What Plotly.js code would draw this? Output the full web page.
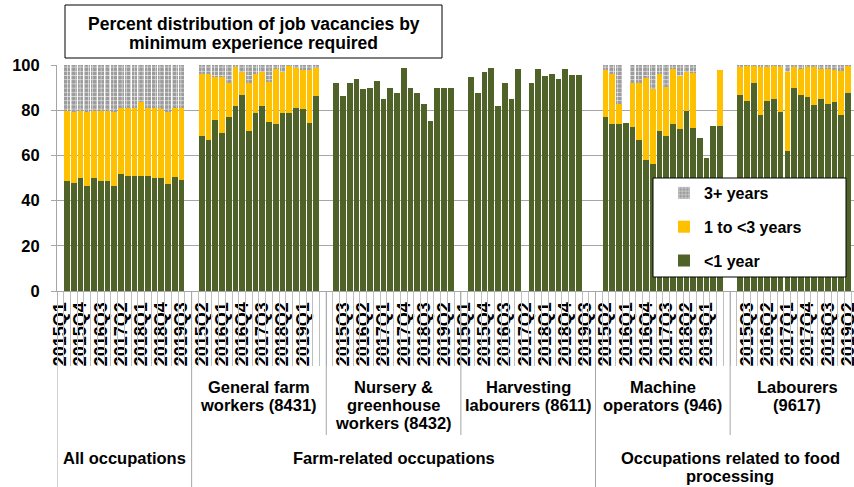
<!DOCTYPE html>
<html><head><meta charset="utf-8">
<script src="https://cdn.plot.ly/plotly-3.0.1.min.js"></script>
<style>html,body{margin:0;padding:0;background:#fff;overflow:hidden}#chart{width:854px;height:487px}</style>
</head><body><div id="chart"></div>
<script>
const quarters = ['2015Q1','2015Q2','2015Q3','2015Q4','2016Q1','2016Q2','2016Q3','2016Q4','2017Q1','2017Q2','2017Q3','2017Q4','2018Q1','2018Q2','2018Q3','2018Q4','2019Q1','2019Q2','2019Q3'];
const occupations = ['', 'General farm<br>workers (8431)', 'Nursery &amp;<br>greenhouse<br>workers (8432)', 'Harvesting<br>labourers (8611)', 'Machine<br>operators (946)', 'Labourers<br>(9617)'];
const sectors = ['All occupations', 'Farm-related occupations', 'Occupations related to food<br>processing'];
const sectorOfOccupation = [0, 1, 1, 1, 2, 2];
const seriesNames = ['<1 year', '1 to <3 years', '3+ years'];

// All occupations
const allOcc_lt1   = [null,48.7,47.8,50.0,46.6,50.0,48.7,48.7,46.6,51.8,50.9,50.9,50.9,50.9,50.0,50.0,47.5,50.4,49.1];
const allOcc_1to3  = [null,31.1,31.3,29.8,32.5,29.8,31.1,31.1,32.5,29.0,29.9,29.9,32.7,29.9,30.8,30.5,31.6,30.7,31.7];
const allOcc_3plus = [null,20.2,20.9,20.2,20.9,20.2,20.2,20.2,20.9,19.2,19.2,19.2,16.4,19.2,19.2,19.5,20.9,18.9,19.2];
// General farm workers (8431)
const farm_lt1   = [null,68.6,66.8,75.7,69.9,77.0,81.9,86.7,70.8,78.9,81.9,74.8,73.9,78.9,78.9,81.0,80.5,74.3,86.4];
const farm_1to3  = [null,27.4,29.2,19.1,24.9,14.9,17.1,10.4,21.1,17.1,15.2,17.8,24.2,18.2,20.8,17.5,17.3,23.5,12.1];
const farm_3plus = [null,4.0,4.0,5.2,5.2,8.1,1.0,2.9,8.1,4.0,2.9,7.4,1.9,2.9,0.3,1.5,2.2,2.2,1.5];
// Nursery & greenhouse workers (8432)
const nursery_lt1   = [null,91.9,86.1,91.9,93.9,89.2,89.8,92.8,85.0,89.8,87.8,98.8,89.8,87.8,82.7,75.4,89.8,89.8,89.8];
const nursery_1to3  = [null,null,null,null,null,null,null,null,null,null,null,null,null,null,null,null,null,null,null];
const nursery_3plus = [null,null,null,null,null,null,null,null,null,null,null,null,null,null,null,null,null,null,null];
// Harvesting labourers (8611)
const harvest_lt1   = [null,94.8,87.8,96.9,98.8,82.0,91.9,85.0,98.1,null,91.9,98.1,95.3,96.0,93.9,98.1,95.6,95.6,null];
const harvest_1to3  = [null,null,null,null,null,null,null,null,null,null,null,null,null,null,null,null,null,null,null];
const harvest_3plus = [null,null,null,null,null,null,null,null,null,null,null,null,null,null,null,null,null,null,null];
// Machine operators (946)
const machine_lt1   = [null,77.1,73.9,73.9,74.2,72.7,66.8,58.0,56.0,70.8,68.7,73.9,71.7,79.8,72.0,67.5,58.7,73.2,73.2];
const machine_1to3  = [null,20.7,22.1,8.8,null,19.2,25.1,36.1,33.2,25.2,21.4,24.2,23.4,17.3,24.3,null,null,null,24.6];
const machine_3plus = [null,2.2,4.0,17.3,null,8.1,8.1,5.9,10.8,4.0,9.9,1.9,4.9,2.9,3.7,null,null,null,null];
// Labourers (9617)
const labour_lt1   = [null,86.7,84.1,91.9,77.9,84.1,85.0,79.1,62.0,89.7,86.7,86.0,82.3,85.0,82.7,83.6,77.9,87.5,null];
const labour_1to3  = [null,12.3,15.5,7.7,21.1,14.9,14.7,19.9,35.1,9.3,11.4,13.0,17.0,13.1,15.4,14.2,19.6,12.1,null];
const labour_3plus = [null,1.0,0.4,0.4,1.0,1.0,0.3,1.0,2.9,1.0,1.9,1.0,0.7,1.9,1.9,2.2,2.5,0.4,null];

const lt1Groups  = [allOcc_lt1, farm_lt1, nursery_lt1, harvest_lt1, machine_lt1, labour_lt1];
const midGroups  = [allOcc_1to3, farm_1to3, nursery_1to3, harvest_1to3, machine_1to3, labour_1to3];
const highGroups = [allOcc_3plus, farm_3plus, nursery_3plus, harvest_3plus, machine_3plus, labour_3plus];

// category keys with a blank separator slot after each occupation group
const xKeys = [], tickvals = [], ticktext = [];
const nG = lt1Groups.length;
for (let g = 0; g < nG; g++) {
  quarters.forEach(q => xKeys.push('g' + g + ' ' + q));
  if (g < nG - 1) xKeys.push('gap' + g);
}
xKeys.forEach((k, i) => {
  if (i % 3 === 0) { tickvals.push(k); ticktext.push(k.startsWith('gap') ? '' : '<b>' + k.split(' ')[1] + '</b>'); }
});
function flatten(groups) {
  const out = [];
  groups.forEach((arr, g) => { arr.forEach(v => out.push(v)); if (g < groups.length - 1) out.push(null); });
  return out;
}

const green = '#4F6228', yellow = '#FFC000', grey = '#A6A6A6';
const traces = [
  {name: seriesNames[0], y: flatten(lt1Groups), marker: {color: green}, legendrank: 3},
  {name: seriesNames[1], y: flatten(midGroups), marker: {color: yellow}, legendrank: 2},
  {name: seriesNames[2], y: flatten(highGroups), marker: {color: grey,
     pattern: {shape: '+', fgcolor: '#ffffff', bgcolor: '#9C9C9C', size: 4.2, solidity: 0.22, fillmode: 'replace'}}, legendrank: 1}
].map((t, i) => Object.assign({type: 'bar', x: xKeys, hoverinfo: 'skip', legendgroup: 'lg' + i}, t));

// paper helpers (plot area: left 57, width 797; top 65, height 226)
const px2x = p => (p - 57) / 797;
const px2y = p => (291 - p) / 226;

const shapes = [];
const annotations = [];
const lblFont = {size: 16.5};
const lineGap = 18.3;
function addLines(text, xval, yFirst) {
  text.split('<br>').forEach((line, k) => {
    annotations.push({xref: 'x2', yref: 'paper', x: xval, y: px2y(yFirst + k * lineGap), xanchor: 'center', yanchor: 'middle',
      showarrow: false, text: '<b>' + line + '</b>', font: lblFont});
  });
}
for (let g = 0; g < nG; g++) {
  const isSectorStart = g === 0 || sectorOfOccupation[g] !== sectorOfOccupation[g - 1];
  shapes.push({type: 'line', xref: 'x2', yref: 'paper', x0: g * 20 - 0.5, x1: g * 20 - 0.5,
    y0: 0, y1: isSectorStart ? px2y(487) : px2y(435), line: {color: '#A6A6A6', width: 1}});
  if (occupations[g]) addLines(occupations[g], g * 20 + 9.5, 386.5);
}
sectors.forEach((s, si) => {
  const gs = sectorOfOccupation.map((v, i) => v === si ? i : -1).filter(i => i >= 0);
  const x0 = gs[0] * 20 - 0.5, x1 = gs[gs.length - 1] * 20 + 19.5;
  addLines(s, (x0 + x1) / 2, 457.5);
});
shapes.push({type: 'rect', xref: 'paper', yref: 'paper', x0: px2x(65), x1: px2x(442), y0: px2y(58), y1: px2y(5),
  line: {color: '#000', width: 1}, fillcolor: '#fff', layer: 'above'});
annotations.push({xref: 'paper', yref: 'paper', x: px2x(253.5), y: px2y(24), xanchor: 'center', yanchor: 'middle', showarrow: false,
  text: '<b>Percent distribution of job vacancies by</b>', font: {size: 17.5}});
annotations.push({xref: 'paper', yref: 'paper', x: px2x(253.5), y: px2y(43), xanchor: 'center', yanchor: 'middle', showarrow: false,
  text: '<b>minimum experience required</b>', font: {size: 17.5}});
shapes.push({type: 'rect', xref: 'paper', yref: 'paper', x0: px2x(653), x1: px2x(846), y0: px2y(277), y1: px2y(178),
  line: {color: '#000', width: 1}, fillcolor: '#fff', layer: 'above'});

const layout = {
  width: 854, height: 487,
  margin: {l: 57, r: 0, t: 65, b: 196},
  barmode: 'stack', bargap: 0.15,
  paper_bgcolor: '#fff', plot_bgcolor: '#fff',
  font: {family: 'Arial, "Liberation Sans", sans-serif', color: '#000'},
  showlegend: true,
  xaxis: {type: 'category', categoryorder: 'array', categoryarray: xKeys, range: [-0.5, 117.9],
    tickmode: 'array', tickvals: tickvals, ticktext: ticktext, tickangle: -90, tickfont: {size: 18},
    ticklabelstandoff: 3,
    showline: true, linecolor: '#A6A6A6', ticks: '', showgrid: false, zeroline: false, fixedrange: true},
  xaxis2: {type: 'linear', overlaying: 'x', anchor: 'y', side: 'bottom', range: [-0.5, 117.9],
    tickmode: 'linear', tick0: -0.5, dtick: 1, ticks: 'outside', ticklen: 74, tickcolor: '#BFBFBF', tickwidth: 1,
    showticklabels: false, showgrid: false, zeroline: false, showline: false},
  yaxis: {range: [0, 100], dtick: 20, showgrid: true, gridcolor: '#A6A6A6', gridwidth: 1,
    showline: true, linecolor: '#A6A6A6', ticks: 'outside', ticklen: 5, tickcolor: '#A6A6A6',
    tickfont: {size: 16.5, weight: 'bold'}, ticklabelstandoff: 8, zeroline: false},
  legend: {x: px2x(664), y: px2y(176), xanchor: 'left', yanchor: 'top', bgcolor: 'rgba(0,0,0,0)',
    borderwidth: 0, font: {size: 16, weight: 'bold'}, traceorder: 'grouped', tracegroupgap: 10},
  shapes: shapes, annotations: annotations
};
Plotly.newPlot('chart', traces, layout, {displayModeBar: false, staticPlot: true});
</script>
</body></html>
